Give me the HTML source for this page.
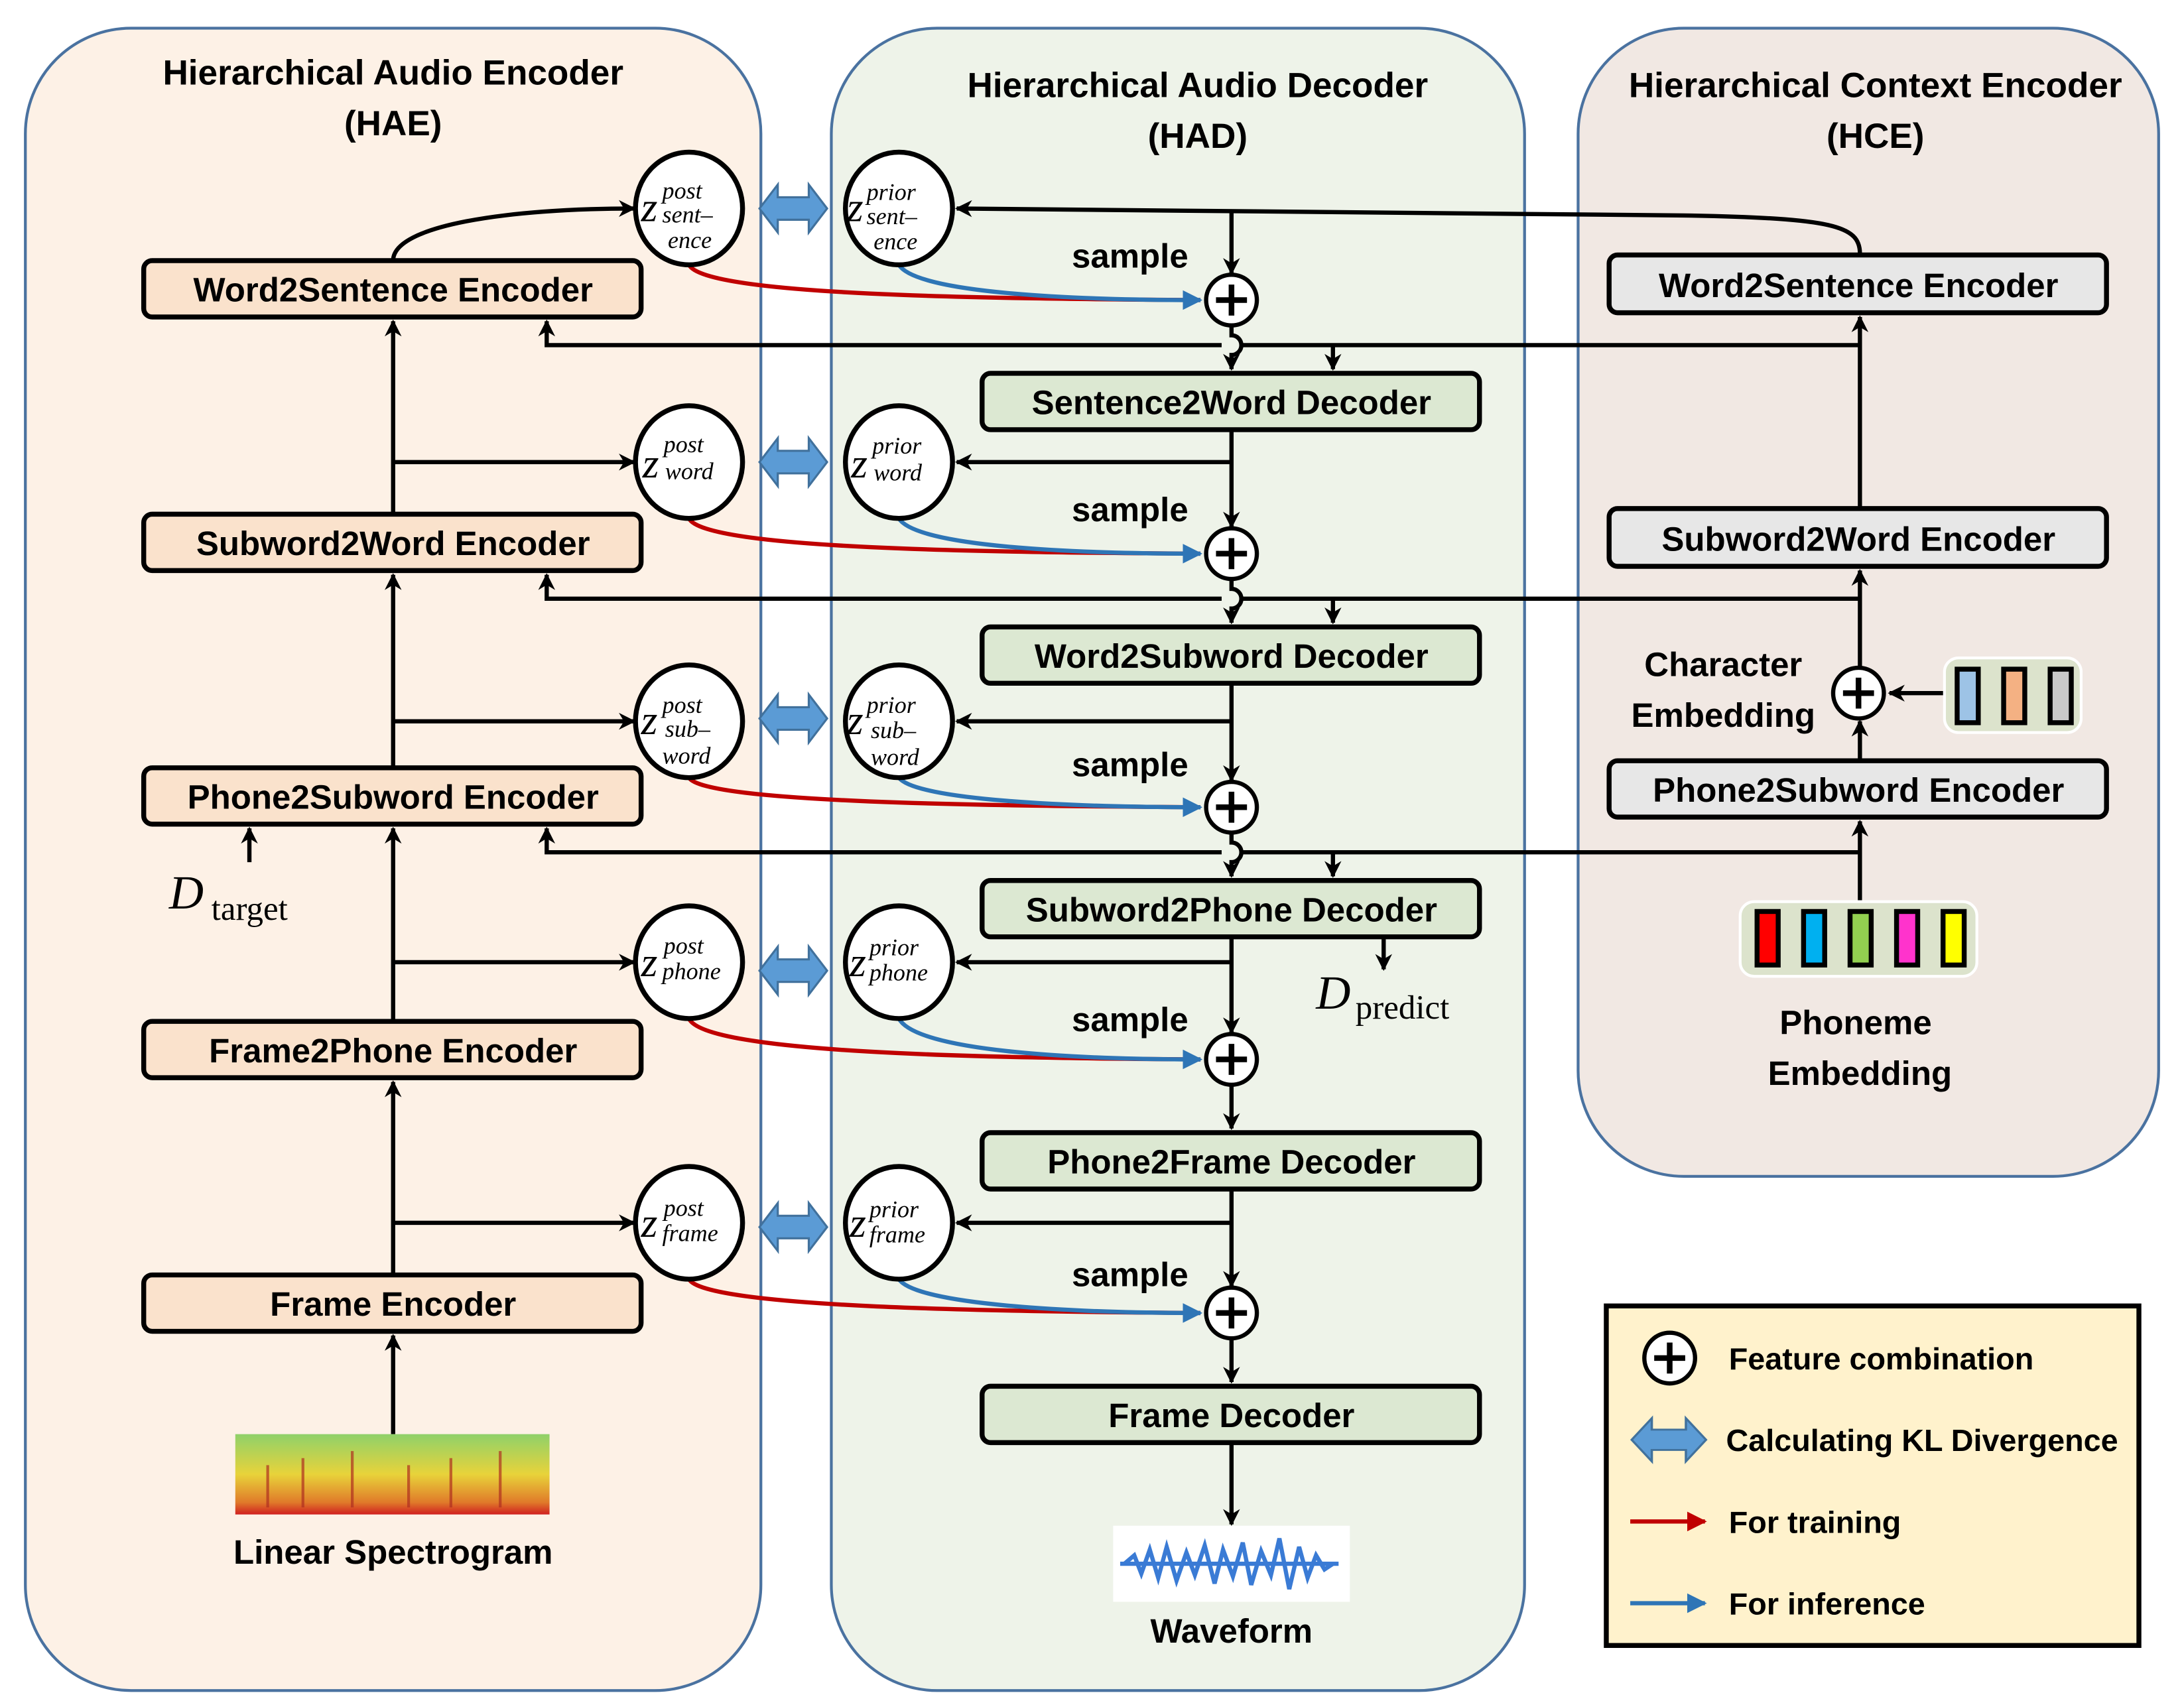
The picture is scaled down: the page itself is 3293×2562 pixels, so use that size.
<!DOCTYPE html>
<html><head><meta charset="utf-8"><style>html,body{margin:0;padding:0;background:#fff}svg{display:block}text{font-family:"Liberation Sans",sans-serif;font-weight:bold}.s{font-family:"Liberation Serif",serif;font-style:italic;font-weight:normal}</style></head><body>
<svg width="3293" height="2562" viewBox="0 0 1550 1206" preserveAspectRatio="none" xmlns="http://www.w3.org/2000/svg">
<defs>
<marker id="ak" viewBox="0 0 10 10" refX="9" refY="5" markerWidth="12" markerHeight="14" orient="auto" markerUnits="userSpaceOnUse"><path d="M0,0 L10,5 L0,10 L3,5 z" fill="#000"/></marker>
<marker id="ab" viewBox="0 0 10 10" refX="9" refY="5" markerWidth="14" markerHeight="14" orient="auto" markerUnits="userSpaceOnUse"><path d="M0,0 L10,5 L0,10 z" fill="#2e75b6"/></marker>
<marker id="ar" viewBox="0 0 10 10" refX="9" refY="5" markerWidth="14" markerHeight="14" orient="auto" markerUnits="userSpaceOnUse"><path d="M0,0 L10,5 L0,10 z" fill="#c00000"/></marker>
<g id="kl"><path d="M0,0 L13,-17 L13,-8 L35,-8 L35,-17 L48,0 L35,17 L35,8 L13,8 L13,17 z" fill="#5b9bd5" stroke="#41719c" stroke-width="1.5"/></g>
<g id="pl"><circle r="18" fill="#fff" stroke="#000" stroke-width="3"/><path d="M-11,0H11M0,-11V11" stroke="#000" stroke-width="4"/></g>
</defs>
<rect x="18" y="20" width="522" height="1180" rx="75" fill="#fdf1e6" stroke="#4a72a0" stroke-width="2"/>
<rect x="590" y="20" width="492" height="1180" rx="75" fill="#eef3e9" stroke="#4a72a0" stroke-width="2"/>
<rect x="1120" y="20" width="412" height="815" rx="75" fill="#f1e8e3" stroke="#4a72a0" stroke-width="2"/>
<text x="279" y="60" font-size="25" text-anchor="middle">Hierarchical Audio Encoder</text>
<text x="279" y="96" font-size="25" text-anchor="middle">(HAE)</text>
<text x="850" y="69" font-size="25" text-anchor="middle">Hierarchical Audio Decoder</text>
<text x="850" y="105" font-size="25" text-anchor="middle">(HAD)</text>
<text x="1331" y="69" font-size="25" text-anchor="middle">Hierarchical Context Encoder</text>
<text x="1331" y="105" font-size="25" text-anchor="middle">(HCE)</text>

<g stroke="#000" stroke-width="3" fill="none">
<line x1="279" y1="1018" x2="279" y2="948" marker-end="url(#ak)"/>
<line x1="279" y1="905" x2="279" y2="768" marker-end="url(#ak)"/>
<line x1="279" y1="725" x2="279" y2="588" marker-end="url(#ak)"/>
<line x1="279" y1="545" x2="279" y2="408" marker-end="url(#ak)"/>
<line x1="279" y1="365" x2="279" y2="228" marker-end="url(#ak)"/>
<line x1="279" y1="868" x2="450" y2="868" marker-end="url(#ak)"/>
<line x1="279" y1="683" x2="450" y2="683" marker-end="url(#ak)"/>
<line x1="279" y1="512" x2="450" y2="512" marker-end="url(#ak)"/>
<line x1="279" y1="328" x2="450" y2="328" marker-end="url(#ak)"/>
<path d="M279,185 C279,160 360,148 450,148" marker-end="url(#ak)"/>
<line x1="177" y1="612" x2="177" y2="588" marker-end="url(#ak)"/>
<line x1="874" y1="150" x2="874" y2="194" marker-end="url(#ak)"/>
<path d="M874,231 V238 a7,7 0 0 1 0,14 V262" marker-end="url(#ak)"/>
<line x1="874" y1="305" x2="874" y2="374" marker-end="url(#ak)"/>
<path d="M874,411 V418 a7,7 0 0 1 0,14 V442" marker-end="url(#ak)"/>
<line x1="874" y1="485" x2="874" y2="554" marker-end="url(#ak)"/>
<path d="M874,591 V598 a7,7 0 0 1 0,14 V622" marker-end="url(#ak)"/>
<line x1="874" y1="665" x2="874" y2="733" marker-end="url(#ak)"/>
<line x1="874" y1="770" x2="874" y2="801" marker-end="url(#ak)"/>
<line x1="874" y1="844" x2="874" y2="913" marker-end="url(#ak)"/>
<line x1="874" y1="950" x2="874" y2="981" marker-end="url(#ak)"/>
<line x1="874" y1="1024" x2="874" y2="1082" marker-end="url(#ak)"/>
<line x1="874" y1="328" x2="679" y2="328" marker-end="url(#ak)"/>
<line x1="874" y1="512" x2="679" y2="512" marker-end="url(#ak)"/>
<line x1="874" y1="683" x2="679" y2="683" marker-end="url(#ak)"/>
<line x1="874" y1="868" x2="679" y2="868" marker-end="url(#ak)"/>
<line x1="982" y1="665" x2="982" y2="688" marker-end="url(#ak)"/>
<path d="M1320,180 C1320,160 1300,155 1200,153 L679,148" marker-end="url(#ak)"/>
<path d="M1320,245 L881,245 M867,245 L388,245 V228" marker-end="url(#ak)"/>
<line x1="946" y1="245" x2="946" y2="262" marker-end="url(#ak)"/>
<path d="M1320,425 L881,425 M867,425 L388,425 V408" marker-end="url(#ak)"/>
<line x1="946" y1="425" x2="946" y2="442" marker-end="url(#ak)"/>
<path d="M1320,605 L881,605 M867,605 L388,605 V588" marker-end="url(#ak)"/>
<line x1="946" y1="605" x2="946" y2="622" marker-end="url(#ak)"/>
<line x1="1320" y1="640" x2="1320" y2="583" marker-end="url(#ak)"/>
<line x1="1320" y1="540" x2="1320" y2="512" marker-end="url(#ak)"/>
<line x1="1320" y1="474" x2="1320" y2="405" marker-end="url(#ak)"/>
<line x1="1320" y1="360" x2="1320" y2="225" marker-end="url(#ak)"/>
<line x1="1380" y1="492" x2="1341" y2="492" marker-end="url(#ak)"/>
</g>

<g fill="none" stroke-width="3">
<path d="M489,188 C500,210 700,212 852,213" stroke="#c00000"/>
<path d="M638,188 C650,208 760,213 852,213" stroke="#2e75b6" marker-end="url(#ab)"/>
<path d="M489,368 C500,390 700,392 852,393" stroke="#c00000"/>
<path d="M638,368 C650,388 760,393 852,393" stroke="#2e75b6" marker-end="url(#ab)"/>
<path d="M489,552 C500,570 700,572 852,573" stroke="#c00000"/>
<path d="M638,552 C650,568 760,573 852,573" stroke="#2e75b6" marker-end="url(#ab)"/>
<path d="M489,723 C500,748 700,751 852,752" stroke="#c00000"/>
<path d="M638,723 C650,746 760,752 852,752" stroke="#2e75b6" marker-end="url(#ab)"/>
<path d="M489,908 C500,928 700,931 852,932" stroke="#c00000"/>
<path d="M638,908 C650,926 760,932 852,932" stroke="#2e75b6" marker-end="url(#ab)"/>
</g>

<g stroke="#000" stroke-width="3.5" fill="#fae2cc">
<rect x="102" y="185" width="353" height="40" rx="6"/>
<rect x="102" y="365" width="353" height="40" rx="6"/>
<rect x="102" y="545" width="353" height="40" rx="6"/>
<rect x="102" y="725" width="353" height="40" rx="6"/>
<rect x="102" y="905" width="353" height="40" rx="6"/>
</g>
<g stroke="#000" stroke-width="3.5" fill="#dce8d2">
<rect x="697" y="265" width="353" height="40" rx="6"/>
<rect x="697" y="445" width="353" height="40" rx="6"/>
<rect x="697" y="625" width="353" height="40" rx="6"/>
<rect x="697" y="804" width="353" height="40" rx="6"/>
<rect x="697" y="984" width="353" height="40" rx="6"/>
</g>
<g stroke="#000" stroke-width="3.5" fill="#e7e7e7">
<rect x="1142" y="181" width="353" height="41" rx="6"/>
<rect x="1142" y="361" width="353" height="41" rx="6"/>
<rect x="1142" y="540" width="353" height="40" rx="6"/>
</g>
<g font-size="24" text-anchor="middle">
<text x="279" y="214">Word2Sentence Encoder</text>
<text x="279" y="394">Subword2Word Encoder</text>
<text x="279" y="574">Phone2Subword Encoder</text>
<text x="279" y="754">Frame2Phone Encoder</text>
<text x="279" y="934">Frame Encoder</text>
<text x="874" y="294">Sentence2Word Decoder</text>
<text x="874" y="474">Word2Subword Decoder</text>
<text x="874" y="654">Subword2Phone Decoder</text>
<text x="874" y="833">Phone2Frame Decoder</text>
<text x="874" y="1013">Frame Decoder</text>
<text x="1319" y="211">Word2Sentence Encoder</text>
<text x="1319" y="391">Subword2Word Encoder</text>
<text x="1319" y="569">Phone2Subword Encoder</text>
</g>
<g font-size="24" text-anchor="middle">
<text x="802" y="190">sample</text>
<text x="802" y="370">sample</text>
<text x="802" y="551">sample</text>
<text x="802" y="732">sample</text>
<text x="802" y="913">sample</text>
</g>

<g fill="#fff" stroke="#000" stroke-width="3.5">
<ellipse cx="489" cy="148" rx="38" ry="40"/><ellipse cx="638" cy="148" rx="38" ry="40"/>
<ellipse cx="489" cy="328" rx="38" ry="40"/><ellipse cx="638" cy="328" rx="38" ry="40"/>
<ellipse cx="489" cy="512" rx="38" ry="40"/><ellipse cx="638" cy="512" rx="38" ry="40"/>
<ellipse cx="489" cy="683" rx="38" ry="40"/><ellipse cx="638" cy="683" rx="38" ry="40"/>
<ellipse cx="489" cy="868" rx="38" ry="40"/><ellipse cx="638" cy="868" rx="38" ry="40"/>
</g>
<g>
<text class="s" x="455" y="157" font-size="30">z</text><text class="s" x="470" y="141" font-size="17">post</text><text class="s" x="470" y="158" font-size="17">sent–</text><text class="s" x="474" y="176" font-size="17">ence</text>
<text class="s" x="601" y="157" font-size="30">z</text><text class="s" x="615" y="142" font-size="17">prior</text><text class="s" x="615" y="159" font-size="17">sent–</text><text class="s" x="620" y="177" font-size="17">ence</text>
<text class="s" x="456" y="339" font-size="30">z</text><text class="s" x="471" y="321" font-size="17">post</text><text class="s" x="472" y="340" font-size="17" font-style="normal">word</text>
<text class="s" x="604" y="339" font-size="30">z</text><text class="s" x="619" y="322" font-size="17">prior</text><text class="s" x="620" y="341" font-size="17">word</text>
<text class="s" x="455" y="521" font-size="30">z</text><text class="s" x="470" y="506" font-size="17">post</text><text class="s" x="472" y="523" font-size="17" font-style="normal">sub–</text><text class="s" x="470" y="542" font-size="17">word</text>
<text class="s" x="601" y="521" font-size="30">z</text><text class="s" x="615" y="506" font-size="17">prior</text><text class="s" x="618" y="524" font-size="17">sub–</text><text class="s" x="618" y="543" font-size="17">word</text>
<text class="s" x="455" y="693" font-size="30">z</text><text class="s" x="471" y="677" font-size="17">post</text><text class="s" x="470" y="695" font-size="17">phone</text>
<text class="s" x="603" y="693" font-size="30">z</text><text class="s" x="617" y="678" font-size="17">prior</text><text class="s" x="617" y="696" font-size="17">phone</text>
<text class="s" x="455" y="878" font-size="30">z</text><text class="s" x="471" y="863" font-size="17">post</text><text class="s" x="470" y="881" font-size="17">frame</text>
<text class="s" x="603" y="878" font-size="30">z</text><text class="s" x="617" y="864" font-size="17">prior</text><text class="s" x="617" y="882" font-size="17">frame</text>
</g>
<use href="#kl" x="539" y="148"/><use href="#kl" x="539" y="328"/><use href="#kl" x="539" y="510"/><use href="#kl" x="539" y="689"/><use href="#kl" x="539" y="871"/>
<use href="#pl" x="874" y="213"/><use href="#pl" x="874" y="393"/><use href="#pl" x="874" y="573"/><use href="#pl" x="874" y="752"/><use href="#pl" x="874" y="932"/>
<use href="#pl" x="1319" y="492"/>

<text class="s" x="120" y="645" font-size="34">D</text><text x="150" y="653" font-size="24" style="font-family:'Liberation Serif',serif;font-weight:normal">target</text>
<text class="s" x="934" y="716" font-size="34">D</text><text x="962" y="723" font-size="24" style="font-family:'Liberation Serif',serif;font-weight:normal">predict</text>

<text x="1223" y="480" font-size="24" text-anchor="middle">Character</text>
<text x="1223" y="516" font-size="24" text-anchor="middle">Embedding</text>
<rect x="1380" y="467" width="97" height="53" rx="10" fill="#dce3cc" stroke="#fff" stroke-width="2"/>
<g stroke="#000" stroke-width="3.5">
<rect x="1389" y="475" width="15" height="38" fill="#9dc3e6"/><rect x="1422" y="475" width="15" height="38" fill="#f4b183"/><rect x="1455" y="475" width="15" height="38" fill="#c9c9c9"/>
</g>
<rect x="1235" y="640" width="168" height="53" rx="10" fill="#dce3cc" stroke="#fff" stroke-width="2"/>
<g stroke="#000" stroke-width="3.5">
<rect x="1247" y="647" width="15" height="38" fill="#ff0000"/><rect x="1280" y="647" width="15" height="38" fill="#00b0f0"/><rect x="1313" y="647" width="15" height="38" fill="#92d050"/><rect x="1346" y="647" width="15" height="38" fill="#ff33cc"/><rect x="1379" y="647" width="15" height="38" fill="#ffff00"/>
</g>
<text x="1317" y="734" font-size="24" text-anchor="middle">Phoneme</text>
<text x="1320" y="770" font-size="24" text-anchor="middle">Embedding</text>

<defs><linearGradient id="sp" x1="0" y1="0" x2="0" y2="1"><stop offset="0" stop-color="#8fd16a"/><stop offset="0.5" stop-color="#e8d33a"/><stop offset="0.85" stop-color="#e07a2a"/><stop offset="1" stop-color="#d02020"/></linearGradient></defs>
<rect x="167" y="1018" width="223" height="57" fill="url(#sp)"/>
<g stroke="#b03020" stroke-width="2" opacity="0.7"><line x1="190" y1="1040" x2="190" y2="1070"/><line x1="215" y1="1035" x2="215" y2="1070"/><line x1="250" y1="1030" x2="250" y2="1070"/><line x1="290" y1="1040" x2="290" y2="1070"/><line x1="320" y1="1035" x2="320" y2="1070"/><line x1="355" y1="1030" x2="355" y2="1070"/></g>
<text x="279" y="1110" font-size="24" text-anchor="middle">Linear Spectrogram</text>
<rect x="790" y="1083" width="168" height="54" fill="#fff"/>
<path d="M798,1110 L805,1104 L810,1117 L816,1100 L822,1120 L828,1098 L835,1122 L842,1102 L848,1118 L855,1097 L862,1124 L868,1100 L875,1119 L882,1095 L888,1125 L895,1101 L902,1118 L908,1092 L915,1128 L922,1098 L928,1120 L934,1104 L940,1114 L946,1110" fill="none" stroke="#3a7bd5" stroke-width="3"/>
<line x1="795" y1="1110" x2="950" y2="1110" stroke="#3a7bd5" stroke-width="3"/>
<text x="874" y="1166" font-size="24" text-anchor="middle">Waveform</text>

<rect x="1140" y="927" width="378" height="241" fill="#fff2cc" stroke="#000" stroke-width="3.5"/>
<use href="#pl" x="1185" y="964"/>
<text x="1227" y="972" font-size="22">Feature combination</text>
<g transform="translate(1158,1022) scale(1.1,0.9)"><use href="#kl"/></g>
<text x="1225" y="1030" font-size="22">Calculating KL Divergence</text>
<line x1="1157" y1="1080" x2="1210" y2="1080" stroke="#c00000" stroke-width="3" marker-end="url(#ar)"/>
<text x="1227" y="1088" font-size="22">For training</text>
<line x1="1157" y1="1138" x2="1210" y2="1138" stroke="#2e75b6" stroke-width="3" marker-end="url(#ab)"/>
<text x="1227" y="1146" font-size="22">For inference</text>
</svg>
</body></html>
